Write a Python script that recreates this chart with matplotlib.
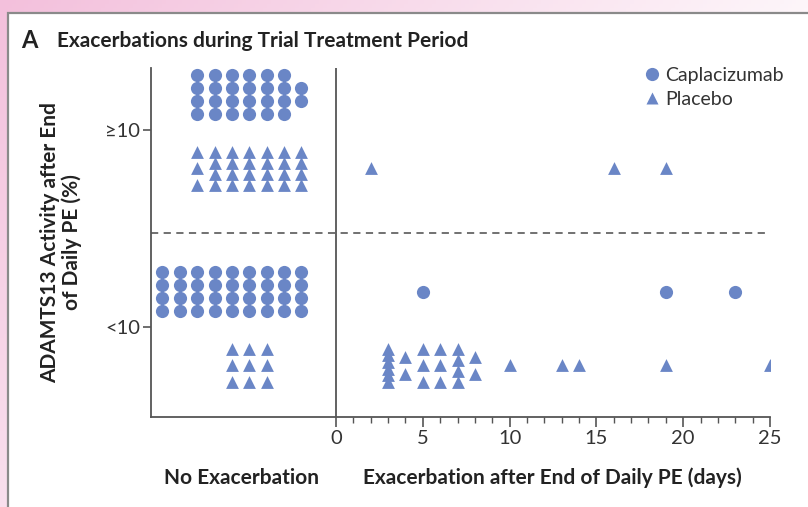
import numpy as np
import matplotlib.pyplot as plt
from matplotlib.lines import Line2D
from matplotlib.patches import Rectangle

plt.rcParams['font.family'] = ['Lato', 'DejaVu Sans']

# ---- data ----
# no exacerbation: number of patients in each column of the grid
capla_none_hi = [4, 4, 4, 4, 4, 4, 2]
capla_none_lo = [4, 4, 4, 4, 4, 4, 4, 4, 4]
plac_none_hi = [3, 4, 4, 4, 4, 4, 4]
plac_none_lo = [3, 3, 3]

# exacerbation: day after end of daily PE for each patient
plac_exac_hi = [2, 16, 19]
plac_exac_lo = [3, 3, 3, 3, 3, 3, 4, 4, 5, 5, 5, 6, 6, 6, 7, 7, 7, 7, 8, 8,
                10, 13, 14, 19, 25]
capla_exac_lo = [5, 19, 23]

ytick_labels = ['<10', '≥10']
xticks = [0, 5, 10, 15, 20, 25]

blue = '#6a86c6'
grey = '#555555'
W, H = 808, 507


def stack(xs, cat, kind):
    # spread patients with the same x vertically around their category row
    xs = np.asarray(xs, dtype=float)
    px, py = [], []
    for x in np.unique(xs):
        n = int((xs == x).sum())
        if kind == 'c':
            centre, pitch = cat + 0.18, 0.066
        else:
            centre = cat - 0.195
            pitch = 0.084 if n < 2 else min(0.084, 0.168 / (n - 1))
        offs = (np.arange(n) - (n - 1) / 2) * pitch
        px += [x] * n
        py += list(centre - offs)
    return px, py


def grid(counts, first_col, cat, kind):
    xs = []
    for i, c in enumerate(counts):
        xs += [first_col + i] * c
    return stack(xs, cat, kind)


fig = plt.figure(figsize=(W / 100, H / 100), dpi=100)

# pink page border
bg = fig.add_axes([0, 0, 1, 1], zorder=-5)
bg.axis('off')
gx, gy = np.meshgrid(np.linspace(0, 1, 200), np.linspace(0, 1, 120))
t = np.clip(1 - 0.85 * gx - 0.5 * gy, 0, 1)
pink = np.array([243, 192, 220]) / 255
img = 1 - t[..., None] * (1 - pink)
bg.imshow(img, extent=[0, 1, 0, 1], aspect='auto', origin='upper')
bg.add_patch(Rectangle((8 / W, -0.01), 1.0, 1 - 13 / H + 0.01,
                       facecolor='white', edgecolor='#8a8a8a', lw=1.6))
bg.set_xlim(0, 1)
bg.set_ylim(0, 1)

ax = fig.add_axes([151 / W, 1 - 417 / H, (770 - 151) / W, (417 - 68) / H])
ax.patch.set_alpha(0)

ms_c, ms_t = 90, 85
for counts, first, cat, kind in [(capla_none_hi, -8, 1, 'c'),
                                 (capla_none_lo, -10, 0, 'c'),
                                 (plac_none_hi, -8, 1, 't'),
                                 (plac_none_lo, -6, 0, 't')]:
    x, y = grid(counts, first, cat, kind)
    ax.scatter(x, y, s=ms_c if kind == 'c' else ms_t,
               marker='o' if kind == 'c' else '^', color=blue, lw=0, zorder=3)

for days, cat, kind in [(plac_exac_hi, 1, 't'), (plac_exac_lo, 0, 't'),
                        (capla_exac_lo, 0, 'c')]:
    x, y = stack(days, cat, kind)
    ax.scatter(x, y, s=ms_c if kind == 'c' else ms_t,
               marker='o' if kind == 'c' else '^', color=blue, lw=0, zorder=3)

ax.set_xlim(-10.66, 25)
ax.set_ylim(-0.457, 1.315)
# dividing line between the two ADAMTS13 groups
ax.axhline(0.477, color='#666666', lw=1.3, dashes=(4, 3), zorder=1)
ax.axvline(0, color=grey, lw=1.3, zorder=2)

for s in ['top', 'right']:
    ax.spines[s].set_visible(False)
for s in ['left', 'bottom']:
    ax.spines[s].set_color(grey)
    ax.spines[s].set_linewidth(1.3)

ax.set_xticks(xticks)
ax.set_xticks(range(0, 26), minor=True)
ax.tick_params(axis='x', which='major', length=7, width=1.2, color=grey,
               labelsize=14.5, pad=2, labelcolor='#333333')
ax.tick_params(axis='x', which='minor', length=4, width=1.0, color=grey)
ax.set_yticks([0, 1])
ax.set_yticklabels(ytick_labels)
ax.tick_params(axis='y', length=6, width=1.2, color=grey, labelsize=14.5,
               pad=2, labelcolor='#333333')

ax.set_ylabel('ADAMTS13 Activity after End\nof Daily PE (%)', fontsize=15,
              fontweight='bold', color='#222222', linespacing=1.05)
ax.yaxis.set_label_coords((82 - 151) / (770 - 151), 0.5)

fig.text(241 / W, 1 - 478 / H, 'No Exacerbation', ha='center', va='center',
         fontsize=15, fontweight='bold', color='#222222')
fig.text(552 / W, 1 - 478 / H, 'Exacerbation after End of Daily PE (days)',
         ha='center', va='center', fontsize=15, fontweight='bold',
         color='#222222')

fig.text(21 / W, 1 - 41 / H, 'A', ha='left', va='center', fontsize=17,
         fontweight='bold', color='#222222')
fig.text(57 / W, 1 - 41 / H, 'Exacerbations during Trial Treatment Period',
         ha='left', va='center', fontsize=15, fontweight='bold',
         color='#222222')

handles = [Line2D([], [], marker='o', ls='', color=blue, markersize=9.5,
                  mec='none'),
           Line2D([], [], marker='^', ls='', color=blue, markersize=9,
                  mec='none')]
ax.legend(handles, ['Caplacizumab', 'Placebo'], loc='upper left',
          bbox_to_anchor=(634 / W, 1 - 59 / H),
          bbox_transform=fig.transFigure, frameon=False, fontsize=14,
          handletextpad=0.1, labelspacing=0.38, handlelength=1.1,
          borderaxespad=0, labelcolor='#333333')

fig.savefig('out.png', dpi=100)
